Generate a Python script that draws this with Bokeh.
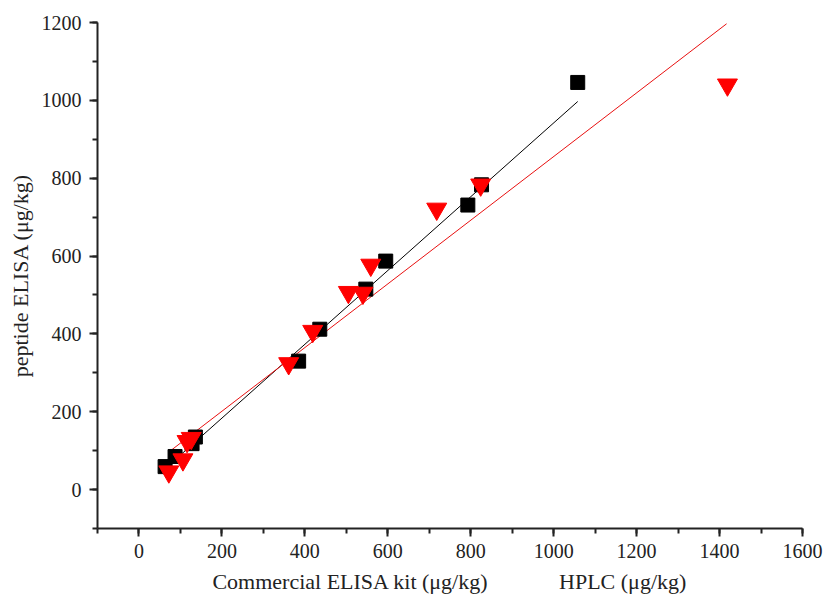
from bokeh.plotting import figure
from bokeh.models import Range1d, SingleIntervalTicker
from bokeh.embed import file_html
from bokeh.resources import INLINE
import numpy as np

# Commercial ELISA kit (black squares)
kit_x = [63, 87, 128, 136, 385, 436, 547, 595, 793, 826, 1058]
kit_y = [59, 85, 118, 135, 330, 412, 515, 587, 731, 783, 1046]
# HPLC (red inverted triangles)
hplc_x = [72, 106, 116, 126, 361, 419, 505, 540, 559, 718, 824, 1419]
hplc_y = [46, 77, 124, 132, 324, 407, 507, 505, 577, 721, 783, 1040]
# linear fits (slope, intercept, x start, x end)
kit_fit = [0.948, -6.0, 66, 1058]
hplc_fit = [0.818, 37.6, 72, 1417]

p = figure(width=823, height=601, output_backend="svg", toolbar_location=None,
           x_range=Range1d(-100, 1600), y_range=Range1d(-100, 1200),
           min_border_left=97, min_border_right=21, min_border_top=22, min_border_bottom=73)
p.outline_line_color = None
p.xgrid.visible = False
p.ygrid.visible = False

fx = np.array(kit_fit[2:])
p.line(fx, kit_fit[0] * fx + kit_fit[1], line_color="black", line_width=1)
hx = np.array(hplc_fit[2:])
p.line(hx, hplc_fit[0] * hx + hplc_fit[1], line_color="#e81010", line_width=1)

p.scatter(kit_x, kit_y, marker="square", size=14, fill_color="black", line_color="black")
p.scatter(hplc_x, hplc_y, marker="inverted_triangle", size=20, fill_color="red", line_color="red")

for ax in (p.xaxis[0], p.yaxis[0]):
    ax.axis_line_width = 2
    ax.axis_line_color = "#222222"
    ax.major_tick_line_width = 2
    ax.minor_tick_line_width = 2
    ax.major_tick_line_color = "#222222"
    ax.minor_tick_line_color = "#222222"
    ax.major_tick_out = 8
    ax.major_tick_in = 0
    ax.minor_tick_out = 5
    ax.minor_tick_in = 0
    ax.major_label_text_font = "Liberation Serif"
    ax.major_label_text_font_size = "20px"
    ax.major_label_text_color = "#222222"
    ax.axis_label_text_font = "Liberation Serif"
    ax.axis_label_text_font_size = "22px"
    ax.axis_label_text_font_style = "normal"
    ax.axis_label_text_color = "#222222"

p.xaxis[0].ticker = SingleIntervalTicker(interval=200, num_minor_ticks=2)
p.yaxis[0].ticker = SingleIntervalTicker(interval=200, num_minor_ticks=2)
p.xaxis[0].major_label_standoff = 7
p.yaxis[0].major_label_standoff = 8
p.xaxis[0].axis_label = "Commercial ELISA kit (\u03bcg/kg)" + "\u00a0" * 13 + "HPLC (\u03bcg/kg)"
p.yaxis[0].axis_label = "peptide ELISA (\u03bcg/kg)"
p.xaxis[0].axis_label_standoff = 8
p.yaxis[0].axis_label_standoff = 6

open("out.html", "w").write(file_html(p, INLINE))
